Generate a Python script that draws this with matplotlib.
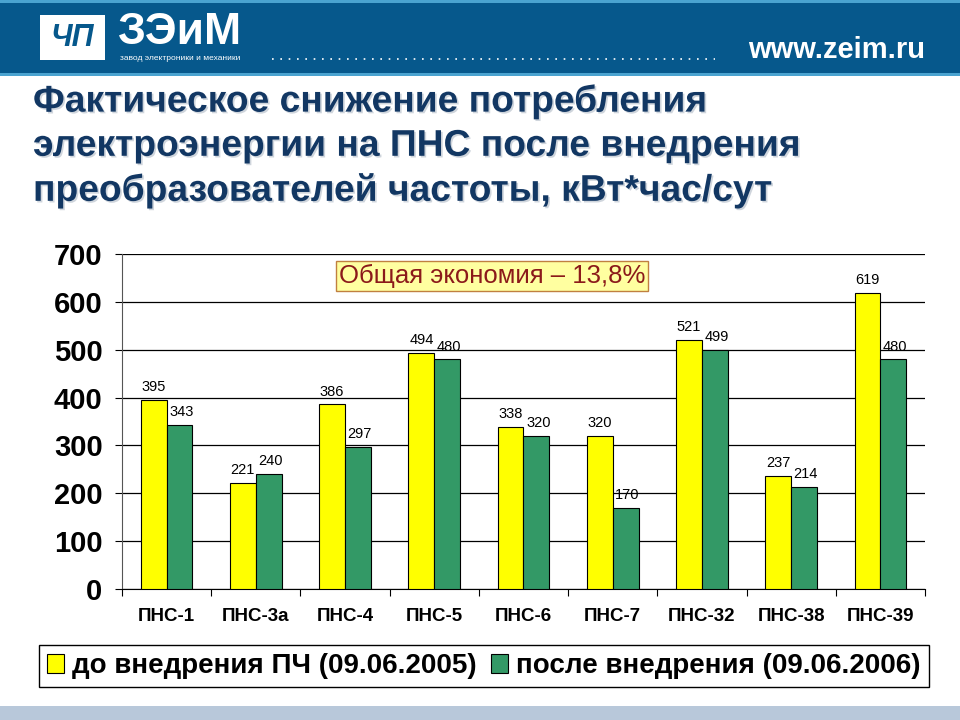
import matplotlib
matplotlib.use("Agg")
import matplotlib.pyplot as plt
from matplotlib.patches import Rectangle, Patch
from matplotlib.lines import Line2D
import matplotlib.patheffects as pe
import numpy as np

plt.rcParams['font.family'] = ['Liberation Sans', 'DejaVu Sans']

categories = ["ПНС-1", "ПНС-3а", "ПНС-4", "ПНС-5", "ПНС-6", "ПНС-7", "ПНС-32", "ПНС-38", "ПНС-39"]
before = [395, 221, 386, 494, 338, 320, 521, 237, 619]
after = [343, 240, 297, 480, 320, 170, 499, 214, 480]
series_labels = ["до внедрения ПЧ (09.06.2005)", "после внедрения (09.06.2006)"]
yticks = [0, 100, 200, 300, 400, 500, 600, 700]
title = "Фактическое снижение потребления\nэлектроэнергии на ПНС после внедрения\nпреобразователей частоты, кВт*час/сут"
note = "Общая экономия – 13,8%"

W, H = 960, 720
fig = plt.figure(figsize=(9.6, 7.2), dpi=100)
fig.patch.set_facecolor("white")

def fx(x):
    return x / W

def fy(y):
    return 1 - y / H

# header band
fig.patches.append(Rectangle((0, fy(76)), 1, 76 / H, transform=fig.transFigure,
                             facecolor="#06588c", edgecolor="none", zorder=0))
fig.patches.append(Rectangle((0, fy(3)), 1, 3 / H, transform=fig.transFigure,
                             facecolor="#4aa3d0", edgecolor="none", zorder=1))
fig.patches.append(Rectangle((0, fy(76)), 1, 3 / H, transform=fig.transFigure,
                             facecolor="#4aa3d0", edgecolor="none", zorder=1))
# logo box
fig.patches.append(Rectangle((fx(40), fy(60)), 65 / W, 45 / H, transform=fig.transFigure,
                             facecolor="white", edgecolor="none", zorder=2))
fig.text(fx(72), fy(38), "ЧП", color="#06588c", fontsize=22, fontweight="bold",
         style="italic", ha="center", va="center", zorder=3)
fig.text(fx(118), fy(32), "ЗЭиМ", color="white", fontsize=32, fontweight="bold",
         ha="left", va="center", zorder=3)
fig.text(fx(120), fy(58), "завод электроники и механики", color="white", fontsize=6,
         ha="left", va="center", zorder=3)
fig.lines.append(Line2D([fx(272), fx(715)], [fy(59), fy(59)], transform=fig.transFigure,
                        color="white", linewidth=1.2, linestyle=(0, (1, 4)), zorder=3))
fig.text(fx(925), fy(50), "www.zeim.ru", color="white", fontsize=21, fontweight="bold",
         ha="right", va="center", zorder=3)

# bottom strip
fig.patches.append(Rectangle((0, 0), 1, 14 / H, transform=fig.transFigure,
                             facecolor="#b8c8da", edgecolor="none", zorder=0))

# title
fig.text(fx(33), fy(84), title, color="#123763", fontsize=26.8, fontweight="bold",
         ha="left", va="top", linespacing=1.34,
         path_effects=[pe.withSimplePatchShadow(offset=(1.2, -1.2), shadow_rgbFace="#b0bac6", alpha=0.6)])

# axes
ax = fig.add_axes([fx(122), fy(589), (925 - 122) / W, (589 - 254) / H])
x = np.arange(len(categories))
bw = 0.29
ax.bar(x - bw / 2, before, bw, color="#ffff00", edgecolor="black", linewidth=0.8, zorder=3)
ax.bar(x + bw / 2, after, bw, color="#339966", edgecolor="black", linewidth=0.8, zorder=3)
for xi, v in zip(x, before):
    ax.text(xi - bw / 2, v + 12, str(v), ha="center", va="bottom", fontsize=10.5)
for xi, v in zip(x, after):
    ax.text(xi + bw / 2 + 0.02, v + 12, str(v), ha="center", va="bottom", fontsize=10.5)

ax.set_xlim(-0.5, len(categories) - 0.5)
ax.set_ylim(0, 700)
ax.set_yticks(yticks)
ax.set_yticklabels([str(t) for t in yticks], fontsize=21, fontweight="bold")
ax.yaxis.grid(True, color="black", linewidth=0.9, zorder=0)
ax.set_axisbelow(True)
ax.set_xticks(np.arange(len(categories) + 1) - 0.5, minor=False)
ax.set_xticklabels([])
ax.set_xticks(x, minor=True)
ax.set_xticklabels(categories, minor=True, fontsize=13.5, fontweight="bold")
ax.tick_params(axis="x", which="minor", length=0, pad=14)
ax.tick_params(axis="x", which="major", length=5, direction="out")
ax.tick_params(axis="y", length=5, direction="out", pad=9)
for s in ["top", "right"]:
    ax.spines[s].set_visible(False)
ax.spines["left"].set_color("#555555")
ax.spines["bottom"].set_color("black")

fig.text(fx(492), fy(276), note, color="#8b1a1a", fontsize=18.5, ha="center", va="center",
         bbox=dict(boxstyle="square,pad=0.12", facecolor="#ffffa0", edgecolor="#c08040", linewidth=1))

# legend
handles = [Patch(facecolor="#ffff00", edgecolor="black", linewidth=0.8),
           Patch(facecolor="#339966", edgecolor="black", linewidth=0.8)]
leg = fig.legend(handles, series_labels, loc="center",
                 bbox_to_anchor=(fx(484), fy(666)), ncol=2, frameon=True,
                 fancybox=False, edgecolor="black", framealpha=1,
                 prop=dict(size=20, weight="bold"), handlelength=0.6, handleheight=0.7,
                 handletextpad=0.3, columnspacing=0.5, borderpad=0.3, borderaxespad=0)
leg.get_frame().set_linewidth(1.0)

fig.savefig("out.png", dpi=100)
